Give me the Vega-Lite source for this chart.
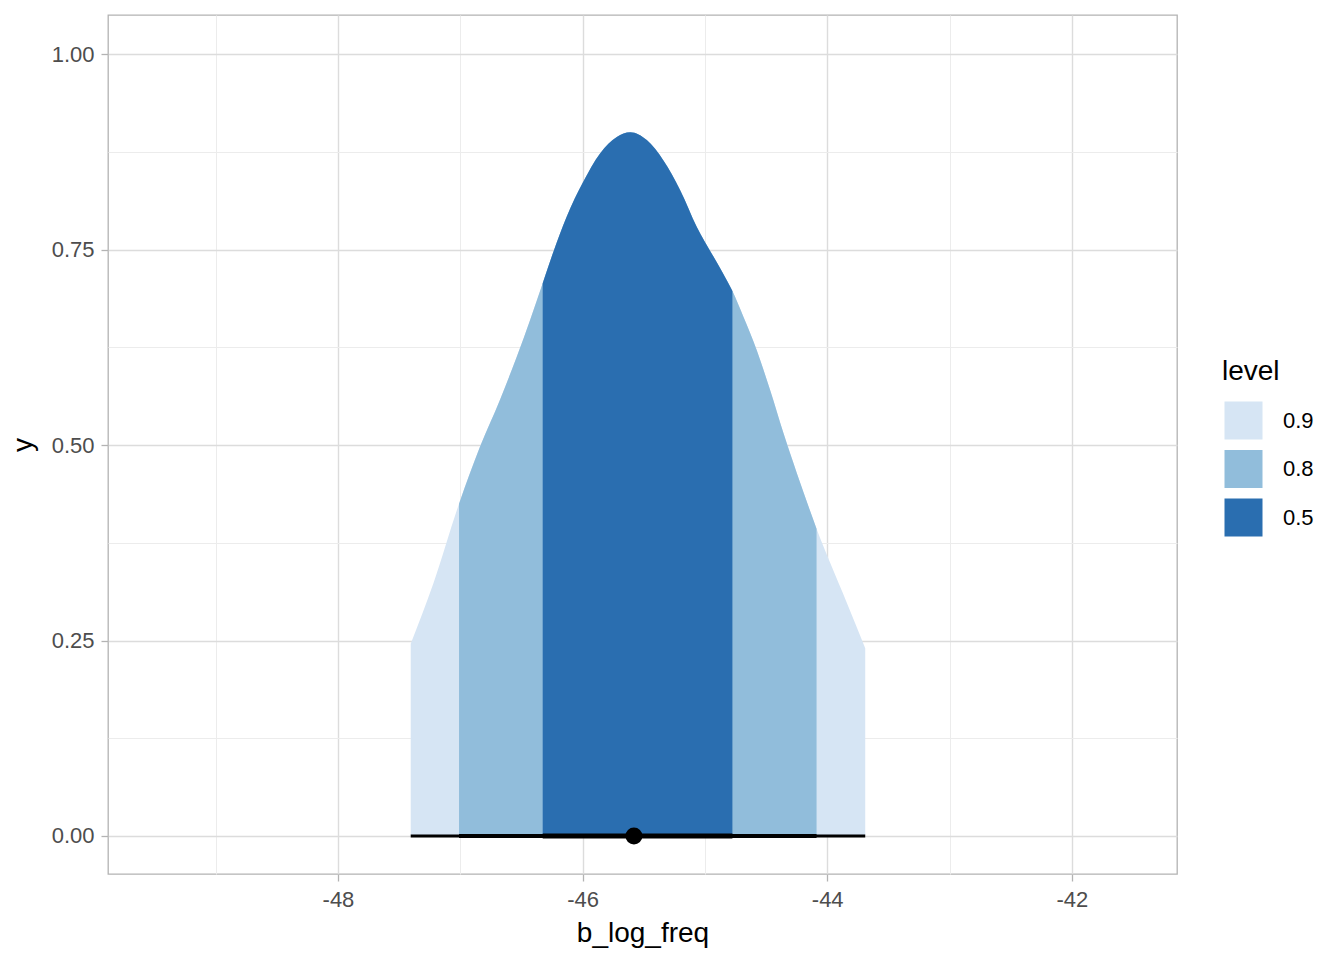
{
  "$schema": "https://vega.github.io/schema/vega-lite/v6.json",
  "width": 1069,
  "height": 859,
  "autosize": {"type": "none"},
  "padding": {"left": 108, "top": 15, "right": 167, "bottom": 86},
  "background": "white",
  "config": {
    "font": "Liberation Sans",
    "view": {"stroke": "#b3b3b3", "strokeWidth": 1.3},
    "axis": {
      "domain": false,
      "tickColor": "#b3b3b3",
      "tickSize": 7,
      "tickWidth": 1.3,
      "labelFont": "Liberation Sans",
      "labelFontSize": 22,
      "labelColor": "#4d4d4d",
      "titleFont": "Liberation Sans",
      "titleFontSize": 28,
      "titleFontWeight": "normal",
      "titleColor": "black",
      "grid": true
    }
  },
  "datasets": {
    "curve": [
      {"b_log_freq": -47.405, "y": 0.246},
      {"b_log_freq": -47.22, "y": 0.323},
      {"b_log_freq": -47.01, "y": 0.425},
      {"b_log_freq": -46.838, "y": 0.498},
      {"b_log_freq": -46.675, "y": 0.558},
      {"b_log_freq": -46.538, "y": 0.613},
      {"b_log_freq": -46.429, "y": 0.660},
      {"b_log_freq": -46.326, "y": 0.707},
      {"b_log_freq": -46.239, "y": 0.747},
      {"b_log_freq": -46.13, "y": 0.792},
      {"b_log_freq": -46.0, "y": 0.835},
      {"b_log_freq": -45.857, "y": 0.873},
      {"b_log_freq": -45.72, "y": 0.894},
      {"b_log_freq": -45.61, "y": 0.900},
      {"b_log_freq": -45.475, "y": 0.890},
      {"b_log_freq": -45.339, "y": 0.864},
      {"b_log_freq": -45.202, "y": 0.826},
      {"b_log_freq": -45.066, "y": 0.779},
      {"b_log_freq": -44.93, "y": 0.741},
      {"b_log_freq": -44.85, "y": 0.719},
      {"b_log_freq": -44.775, "y": 0.697},
      {"b_log_freq": -44.685, "y": 0.664},
      {"b_log_freq": -44.575, "y": 0.621},
      {"b_log_freq": -44.466, "y": 0.570},
      {"b_log_freq": -44.357, "y": 0.515},
      {"b_log_freq": -44.248, "y": 0.464},
      {"b_log_freq": -44.087, "y": 0.393},
      {"b_log_freq": -43.975, "y": 0.349},
      {"b_log_freq": -43.839, "y": 0.298},
      {"b_log_freq": -43.689, "y": 0.240}
    ],
    "intervals": [
      {"level": "0.9", "lower": -47.405, "upper": -43.689},
      {"level": "0.8", "lower": -47.01, "upper": -44.087},
      {"level": "0.5", "lower": -46.326, "upper": -44.775}
    ],
    "median": [
      {"b_log_freq": -45.58, "y": 0}
    ]
  },
  "layer": [
    {
      "data": {"name": "curve"},
      "mark": {"type": "area", "interpolate": "monotone"},
      "encoding": {
        "x": {
          "field": "b_log_freq", "type": "quantitative",
          "scale": {"domain": [-49.88, -41.14], "nice": false, "zero": false},
          "axis": {
            "title": "b_log_freq",
            "values": [-49, -48, -47, -46, -45, -44, -43, -42],
            "labelExpr": "datum.value % 2 === 0 ? '' + datum.value : ''",
            "labelPadding": 8,
            "titlePadding": 9,
            "tickOpacity": {"condition": {"test": "datum.value % 2 === 0", "value": 1}, "value": 0},
            "gridColor": {"condition": {"test": "datum.value % 2 === 0", "value": "#dcdcdc"}, "value": "#ececec"},
            "gridWidth": {"condition": {"test": "datum.value % 2 === 0", "value": 1.4}, "value": 1}
          }
        },
        "y": {
          "field": "y", "type": "quantitative",
          "scale": {"domain": [-0.0486, 1.05], "nice": false, "zero": false},
          "axis": {
            "title": "y",
            "values": [0, 0.125, 0.25, 0.375, 0.5, 0.625, 0.75, 0.875, 1],
            "format": ".2f",
            "labelExpr": "(datum.value * 4) % 1 === 0 ? datum.label : ''",
            "labelPadding": 7,
            "titlePadding": 14,
            "tickOpacity": {"condition": {"test": "(datum.value * 4) % 1 === 0", "value": 1}, "value": 0},
            "gridColor": {"condition": {"test": "(datum.value * 4) % 1 === 0", "value": "#dcdcdc"}, "value": "#ececec"},
            "gridWidth": {"condition": {"test": "(datum.value * 4) % 1 === 0", "value": 1.4}, "value": 1}
          }
        },
        "y2": {"datum": 0},
        "color": {
          "datum": "0.9",
          "type": "nominal",
          "scale": {"domain": ["0.9", "0.8", "0.5"], "range": ["#d6e5f4", "#91bddb", "#2a6eb0"]},
          "legend": {
            "title": "level",
            "orient": "none",
            "legendX": 1114,
            "legendY": 343,
            "titleFontSize": 28,
            "titleFontWeight": "normal",
            "titleColor": "black",
            "titlePadding": 14,
            "labelFontSize": 22,
            "labelColor": "black",
            "labelOffset": 18,
            "symbolType": "square",
            "symbolSize": 1444,
            "symbolStrokeWidth": 0,
            "symbolOpacity": 1,
            "rowPadding": 8,
            "padding": 0
          }
        }
      }
    },
    {
      "data": {"name": "curve"},
      "transform": [{"filter": {"field": "b_log_freq", "range": [-47.01, -44.087]}}],
      "mark": {"type": "area", "interpolate": "monotone"},
      "encoding": {
        "x": {"field": "b_log_freq", "type": "quantitative"},
        "y": {"field": "y", "type": "quantitative"},
        "y2": {"datum": 0},
        "color": {"datum": "0.8", "type": "nominal"}
      }
    },
    {
      "data": {"name": "curve"},
      "transform": [{"filter": {"field": "b_log_freq", "range": [-46.326, -44.775]}}],
      "mark": {"type": "area", "interpolate": "monotone"},
      "encoding": {
        "x": {"field": "b_log_freq", "type": "quantitative"},
        "y": {"field": "y", "type": "quantitative"},
        "y2": {"datum": 0},
        "color": {"datum": "0.5", "type": "nominal"}
      }
    },
    {
      "data": {"name": "intervals"},
      "mark": {"type": "rule", "color": "black", "strokeCap": "butt"},
      "encoding": {
        "x": {"field": "lower", "type": "quantitative"},
        "x2": {"field": "upper"},
        "y": {"datum": 0},
        "strokeWidth": {
          "field": "level", "type": "nominal",
          "scale": {"domain": ["0.9", "0.8", "0.5"], "range": [3, 5, 8]},
          "legend": null
        }
      }
    },
    {
      "data": {"name": "median"},
      "mark": {"type": "point", "filled": true, "color": "black", "opacity": 1, "size": 290},
      "encoding": {
        "x": {"field": "b_log_freq", "type": "quantitative"},
        "y": {"field": "y", "type": "quantitative"}
      }
    }
  ]
}
